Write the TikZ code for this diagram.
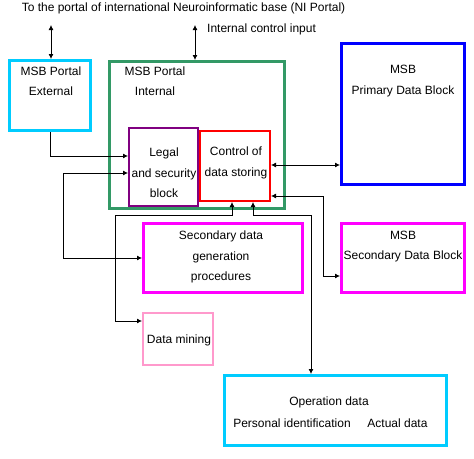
\documentclass[tikz,border=0pt]{standalone}
\usepackage{fontspec}
\setmainfont{Liberation Sans}
\usetikzlibrary{calc,positioning,arrows.meta}
\definecolor{color_cyan}{HTML}{00CCFF}
\definecolor{color_green}{HTML}{339966}
\definecolor{color_purple}{HTML}{800080}
\definecolor{color_red}{HTML}{FF0000}
\definecolor{color_blue}{HTML}{0000FF}
\definecolor{color_magenta}{HTML}{FF00FF}
\definecolor{color_pink}{HTML}{FF99CC}

\begin{document}
\begin{tikzpicture}[x=1pt,y=-1pt,
		every node/.style={font=\fontsize{12}{20.5}\selectfont,inner sep=0pt},
		box/.style={draw,anchor=north west,line width=#1},
		txt/.style={align=center},
		dbl/.style={line width=0.8pt,{Latex[length=5pt,width=5pt]}-{Latex[length=5pt,width=5pt]}},
		arr/.style={line width=0.8pt,-{Latex[length=5pt,width=5pt]}}]
				\useasboundingbox (0, 0) rectangle (474, 458);
				% Boxes
				\node[box=3pt, color_cyan, minimum width=81, minimum height=70] (ext) at (8, 59) {};
				\node[box=3pt, color_green, minimum width=175, minimum height=147] (int) at (108, 60) {};
				\node[box=2pt, color_purple, minimum width=69, minimum height=78] (legal) at (128, 127) {};
				\node[box=2pt, color_red, minimum width=70, minimum height=70] (store) at (199, 130) {};
				\node[box=3pt, color_blue, minimum width=123, minimum height=141] (prim) at (340, 42) {};
				\node[box=3pt, color_magenta, minimum width=159, minimum height=69] (secgen) at (142, 222) {};
				\node[box=3pt, color_magenta, minimum width=123, minimum height=69] (secblk) at (340, 222) {};
				\node[box=2pt, color_pink, minimum width=70, minimum height=52] (mining) at (142, 312) {};
				\node[box=3pt, color_cyan, minimum width=222, minimum height=70] (opdata) at (223, 374) {};
				
				% Texts
				\node (nitxt) at (183.5, 8) {To the portal of international Neuroinformatic base (NI Portal)};
				\node[anchor=west] (ctrltxt) at (207, 29) {Internal control input};
				\node[txt] (exttxt) at (51, 81) {MSB Portal\\External};
				\node[txt] (inttxt) at (155, 81) {MSB Portal\\Internal};
				\node[txt] (legaltxt) at (164, 173) {Legal\\and security\\block};
				\node[txt] (storetxt) at (236, 163) {Control of\\data storing};
				\node[txt] (primtxt) at (403, 81) {MSB\\Primary Data Block};
				\node[txt] (secgentxt) at (221, 257) {Secondary data\\generation\\procedures};
				\node[txt] (secblktxt) at (403, 246.5) {MSB\\Secondary Data Block};
				\node (miningtxt) at (179, 340) {Data mining};
				\node (optxt) at (329, 402) {Operation data};
				\node (persontxt) at (292, 423) {Personal identification};
				\node (actualtxt) at (397.5, 423) {Actual data};
				
				% Points
				\coordinate (NI) at (51, 25);
				\coordinate (CI) at (195, 25);
				
				% Connectors
				\draw[dbl] (NI) -- (NI |- ext.north);
				\draw[dbl] (CI) -- (CI |- int.north);
				\draw[arr] (ext.south) |- ($(legal.north west)+(0,29)$);
				\draw[dbl] ($(legal.north west)+(0,46)$) -- ++(-65,0) |- ($(secgen.north west)+(0,36)$);
				\draw[dbl] ($(store.south west)+(33,0)$) -- ++(0,13) -- ++(-117,0) |- ($(mining.north west)+(0,9)$);
				\draw[dbl] ($(store.south west)+(54,0)$) -- ++(0,13) -| ($(opdata.north west)+(88,0)$);
				\draw[dbl] ($(store.north east)+(0,66)$) -- ++(52,0) |- ($(secblk.north west)+(0,54)$);
				\draw[dbl] ($(store.north east)+(0,35)$) -- ($(prim.north west)+(0,123)$);
			\end{tikzpicture}
\end{document}
